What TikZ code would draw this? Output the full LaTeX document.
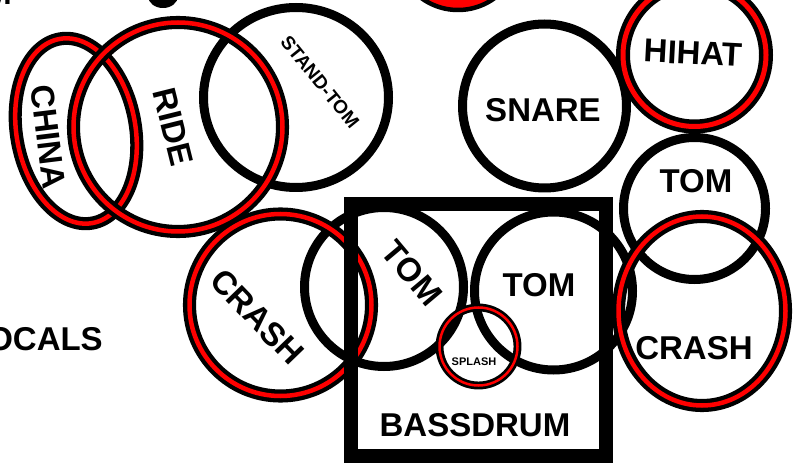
\documentclass[tikz,border=0pt]{standalone}
\usepackage{fontspec}
\setmainfont{Liberation Sans}
\usepackage{xcolor}
\usepackage{tikz}

\begin{document}
\begin{tikzpicture}[x=1pt,y=-1pt,
  drum/.style={draw=black,line width=9pt},
  cymbal/.style={draw=black,line width=4.3pt,double=red,double distance=4.5pt},
  part/.style={font=\fontsize{33}{33}\selectfont\bfseries,inner sep=0pt}]
\useasboundingbox (0,0) rectangle (798,470);
% pieces cut off at the top edge
\fill (163,-4) ellipse [x radius=15, y radius=12];
\draw[line width=4.5pt,fill=red] (458,-52) circle (62);
% drums
\draw[drum] (296,97.5) ellipse [x radius=92.5, y radius=90];
\draw[drum] (544.5,106) circle (82);
\draw[drum] (694.5,208.5) circle (71);
\draw[drum] (384,287) circle (79.5);
\draw[drum] (553.5,291) circle (79);
% cymbals
\draw[cymbal,rotate around={10:(76,131)}] (76,131) ellipse [x radius=59.5, y radius=93.5];
\draw[cymbal] (178,127) circle (104.5);
\draw[cymbal,line width=4.5pt,double distance=5pt] (694.5,55) circle (71.5);
\draw[cymbal] (702,311) ellipse [x radius=83.5, y radius=94.5];
\draw[cymbal] (280.5,305) circle (91);
% bass drum
\draw[line width=14pt] (351,204) rectangle (606,456);
\draw[cymbal,line width=2.7pt,double distance=2.5pt] (478.5,346.5) circle (39);
% labels
\node[part,anchor=base east] (vox2) at (12,5) {M};
\node[part] (china) at (48,137) [rotate=-83] {CHINA};
\node[part] (ride) at (173,127) [rotate=-76] {RIDE};
\node[part,font=\fontsize{19}{19}\selectfont\bfseries] (standtom) at (320,82) [rotate=-51] {STAND-TOM};
\node[part] (snare) at (543,110) {SNARE};
\node[part] (hihat) at (693,53) [rotate=-3] {HIHAT};
\node[part] (tom3) at (696,181) {TOM};
\node[part] (tom1) at (412,273) [rotate=-50] {TOM};
\node[part] (tom2) at (539,285) {TOM};
\node[part] (crash1) at (257,317) [rotate=-46] {CRASH};
\node[part] (crash2) at (694,348) {CRASH};
\node[part,font=\fontsize{11}{11}\selectfont\bfseries] (splash) at (474,362) {SPLASH};
\node[part] (bass) at (475,425) {BASSDRUM};
\node[part] (vocals) at (34,339) {VOCALS};
\end{tikzpicture}
\end{document}
